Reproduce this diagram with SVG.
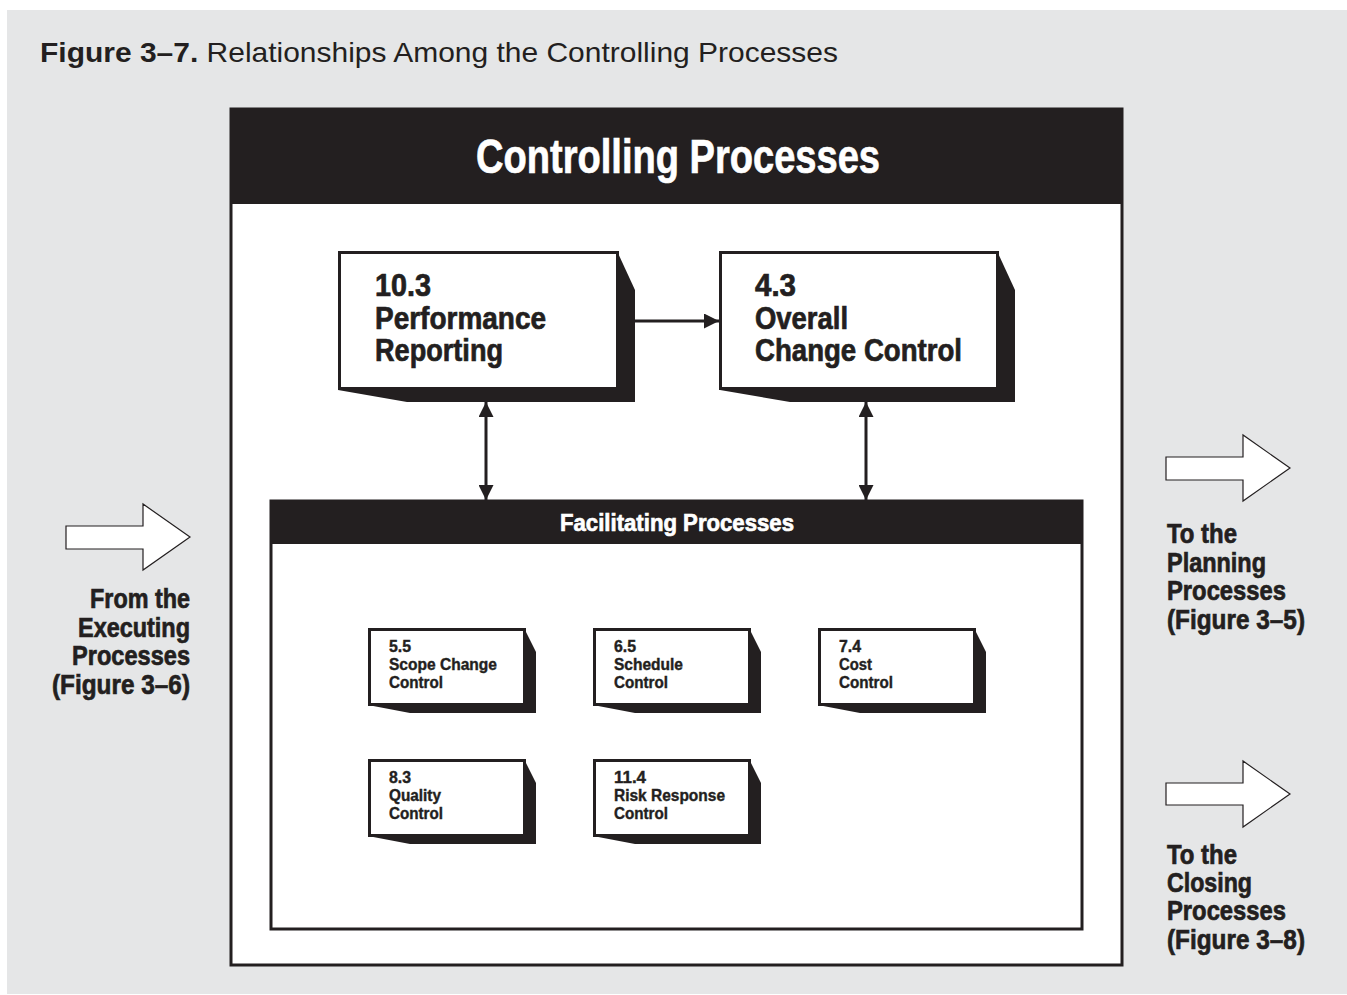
<svg xmlns="http://www.w3.org/2000/svg" width="1347" height="995" viewBox="0 0 1347 995">
<defs>
<style>
.c{font-family:"Liberation Sans",Arial,sans-serif;font-weight:bold;fill:#231f20;stroke:#231f20;stroke-width:0.7px;paint-order:stroke}
.w{fill:#fff;stroke:#fff}
.h1{font-size:48px}
.h2{font-size:24px}
.big{font-size:31px}
.sm{font-size:16.5px;stroke-width:0.4px}
.side{font-size:28px}
.box{fill:#fff;stroke:#231f20;stroke-width:3}
.sh{fill:#231f20}
.blk{fill:#fff;stroke:#231f20;stroke-width:1.2}
.ln{stroke:#231f20;stroke-width:3;fill:none}
</style>
<marker id="ah" viewBox="0 0 10 10" refX="10" refY="5" markerWidth="5" markerHeight="5" orient="auto-start-reverse" markerUnits="strokeWidth">
<path d="M0,0 L10,5 L0,10 z" fill="#231f20"/>
</marker>
</defs>
<rect x="7" y="10" width="1340" height="984" fill="#e5e6e7"/>
<text x="40" y="62" font-family="Liberation Sans, Arial, sans-serif" font-size="28" fill="#231f20" textLength="798" lengthAdjust="spacingAndGlyphs"><tspan font-weight="bold">Figure 3–7.</tspan> Relationships Among the Controlling Processes</text>

<g id="controlling">
<rect x="231" y="109" width="891" height="856" fill="#fff" stroke="#231f20" stroke-width="3"/>
<rect x="231" y="109" width="891" height="95" fill="#231f20"/>
<text class="c w h1" x="476" y="173" textLength="404" lengthAdjust="spacingAndGlyphs">Controlling Processes</text>
</g>

<g id="n10_3">
<polygon class="sh" points="617,251 635,290 635,402 407,402 338,390"/>
<rect class="box" x="339.5" y="252.5" width="278" height="136"/>
<text class="c big" x="375" y="296" textLength="56" lengthAdjust="spacingAndGlyphs">10.3</text>
<text class="c big" x="375" y="329" textLength="171" lengthAdjust="spacingAndGlyphs">Performance</text>
<text class="c big" x="375" y="361" textLength="128" lengthAdjust="spacingAndGlyphs">Reporting</text>
</g>

<g id="n4_3">
<polygon class="sh" points="997,251 1015,290 1015,402 790,402 720,390"/>
<rect class="box" x="720.5" y="252.5" width="277" height="136"/>
<text class="c big" x="755" y="296" textLength="41" lengthAdjust="spacingAndGlyphs">4.3</text>
<text class="c big" x="755" y="329" textLength="93" lengthAdjust="spacingAndGlyphs">Overall</text>
<text class="c big" x="755" y="361" textLength="207" lengthAdjust="spacingAndGlyphs">Change Control</text>
</g>

<g id="facilitating">
<rect x="271" y="501" width="811" height="428" fill="#fff" stroke="#231f20" stroke-width="3"/>
<rect x="271" y="501" width="811" height="43" fill="#231f20"/>
<text class="c w h2" x="560" y="531" textLength="234" lengthAdjust="spacingAndGlyphs">Facilitating Processes</text>
</g>

<g id="n5_5">
<polygon class="sh" points="524,628 536,652 536,713 410,713 368,705"/>
<rect class="box" x="369.5" y="629.5" width="155" height="75"/>
<text class="c sm" x="389" y="652" textLength="22" lengthAdjust="spacingAndGlyphs">5.5</text>
<text class="c sm" x="389" y="670" textLength="108" lengthAdjust="spacingAndGlyphs">Scope Change</text>
<text class="c sm" x="389" y="688" textLength="54" lengthAdjust="spacingAndGlyphs">Control</text>
</g>
<g id="n6_5">
<polygon class="sh" points="749,628 761,652 761,713 635,713 593,705"/>
<rect class="box" x="594.5" y="629.5" width="155" height="75"/>
<text class="c sm" x="614" y="652" textLength="22" lengthAdjust="spacingAndGlyphs">6.5</text>
<text class="c sm" x="614" y="670" textLength="69" lengthAdjust="spacingAndGlyphs">Schedule</text>
<text class="c sm" x="614" y="688" textLength="54" lengthAdjust="spacingAndGlyphs">Control</text>
</g>
<g id="n7_4">
<polygon class="sh" points="974,628 986,652 986,713 860,713 818,705"/>
<rect class="box" x="819.5" y="629.5" width="155" height="75"/>
<text class="c sm" x="839" y="652" textLength="22" lengthAdjust="spacingAndGlyphs">7.4</text>
<text class="c sm" x="839" y="670" textLength="33" lengthAdjust="spacingAndGlyphs">Cost</text>
<text class="c sm" x="839" y="688" textLength="54" lengthAdjust="spacingAndGlyphs">Control</text>
</g>
<g id="n8_3">
<polygon class="sh" points="524,759 536,783 536,844 410,844 368,836"/>
<rect class="box" x="369.5" y="760.5" width="155" height="75"/>
<text class="c sm" x="389" y="783" textLength="22" lengthAdjust="spacingAndGlyphs">8.3</text>
<text class="c sm" x="389" y="801" textLength="52" lengthAdjust="spacingAndGlyphs">Quality</text>
<text class="c sm" x="389" y="819" textLength="54" lengthAdjust="spacingAndGlyphs">Control</text>
</g>
<g id="n11_4">
<polygon class="sh" points="749,759 761,783 761,844 635,844 593,836"/>
<rect class="box" x="594.5" y="760.5" width="155" height="75"/>
<text class="c sm" x="614" y="783" textLength="32" lengthAdjust="spacingAndGlyphs">11.4</text>
<text class="c sm" x="614" y="801" textLength="111" lengthAdjust="spacingAndGlyphs">Risk Response</text>
<text class="c sm" x="614" y="819" textLength="54" lengthAdjust="spacingAndGlyphs">Control</text>
</g>

<g id="connectors">
<line class="ln" x1="635" y1="321" x2="719" y2="321" marker-end="url(#ah)"/>
<line class="ln" x1="486" y1="402" x2="486" y2="500" marker-start="url(#ah)" marker-end="url(#ah)"/>
<line class="ln" x1="866" y1="402" x2="866" y2="500" marker-start="url(#ah)" marker-end="url(#ah)"/>
</g>

<g id="from_executing">
<polygon class="blk" points="66,526 143,526 143,504 190,537 143,570 143,549 66,549"/>
<text class="c side" x="90" y="608" textLength="100" lengthAdjust="spacingAndGlyphs">From the</text>
<text class="c side" x="78" y="637" textLength="112" lengthAdjust="spacingAndGlyphs">Executing</text>
<text class="c side" x="72" y="665" textLength="118" lengthAdjust="spacingAndGlyphs">Processes</text>
<text class="c side" x="52" y="694" textLength="138" lengthAdjust="spacingAndGlyphs">(Figure 3–6)</text>
</g>
<g id="to_planning">
<polygon class="blk" points="1166,457 1243,457 1243,435 1290,468 1243,501 1243,480 1166,480"/>
<text class="c side" x="1167" y="543" textLength="70" lengthAdjust="spacingAndGlyphs">To the</text>
<text class="c side" x="1167" y="572" textLength="99" lengthAdjust="spacingAndGlyphs">Planning</text>
<text class="c side" x="1167" y="600" textLength="119" lengthAdjust="spacingAndGlyphs">Processes</text>
<text class="c side" x="1167" y="629" textLength="138" lengthAdjust="spacingAndGlyphs">(Figure 3–5)</text>
</g>
<g id="to_closing">
<polygon class="blk" points="1166,783 1243,783 1243,761 1290,794 1243,827 1243,805 1166,805"/>
<text class="c side" x="1167" y="864" textLength="70" lengthAdjust="spacingAndGlyphs">To the</text>
<text class="c side" x="1167" y="892" textLength="85" lengthAdjust="spacingAndGlyphs">Closing</text>
<text class="c side" x="1167" y="920" textLength="119" lengthAdjust="spacingAndGlyphs">Processes</text>
<text class="c side" x="1167" y="949" textLength="138" lengthAdjust="spacingAndGlyphs">(Figure 3–8)</text>
</g>
</svg>
